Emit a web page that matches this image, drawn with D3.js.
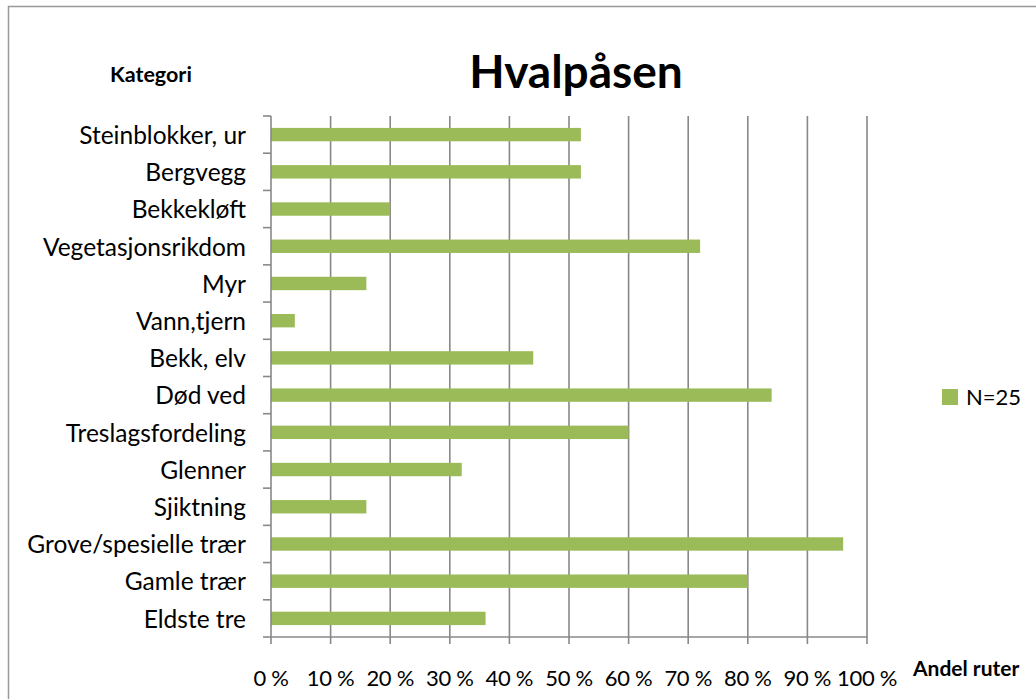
<!DOCTYPE html>
<html>
<head>
<meta charset="utf-8">
<script src="https://cdn.jsdelivr.net/npm/d3@7"></script>
<style>
  body { margin: 0; background: #fff; }
  text { font-family: Lato, "Open Sans", sans-serif; fill: #000; }
</style>
</head>
<body>
<div class="chart"></div>
<script>
var svgWidth = 1036;
var svgHeight = 699;

// categories from top to bottom, values in percent
var categories = ["Steinblokker, ur", "Bergvegg", "Bekkekløft", "Vegetasjonsrikdom", "Myr",
  "Vann,tjern", "Bekk, elv", "Død ved", "Treslagsfordeling", "Glenner", "Sjiktning",
  "Grove/spesielle trær", "Gamle trær", "Eldste tre"];
var values = [52, 52, 20, 72, 16, 4, 44, 84, 60, 32, 16, 96, 80, 36];
var xTicks = [0, 10, 20, 30, 40, 50, 60, 70, 80, 90, 100];
var seriesName = "N=25";

var margin = { top: 116, right: 169, bottom: 62, left: 271 };
var width = svgWidth - margin.left - margin.right;
var height = svgHeight - margin.top - margin.bottom;

var svg = d3.select(".chart")
  .append("svg")
  .attr("width", svgWidth)
  .attr("height", svgHeight);

// outer chart frame
svg.append("rect")
  .attr("x", 8.5)
  .attr("y", 6.5)
  .attr("width", svgWidth + 10)
  .attr("height", svgHeight + 10)
  .attr("fill", "none")
  .attr("stroke", "#999")
  .attr("stroke-width", 1.5);

var chartGroup = svg.append("g")
  .attr("transform", `translate(${margin.left}, ${margin.top})`);

var x = d3.scaleLinear().domain([0, 100]).range([0, width]);
var y = d3.scaleBand().domain(categories).range([0, height]).paddingInner(0.64).paddingOuter(0.32);

// gridlines
chartGroup.selectAll(".grid")
  .data(xTicks.slice(1))
  .enter()
  .append("line")
  .attr("x1", d => x(d))
  .attr("x2", d => x(d))
  .attr("y1", 0)
  .attr("y2", height)
  .attr("stroke", "#888")
  .attr("stroke-width", 1.6);

// bars
chartGroup.selectAll(".bar")
  .data(values)
  .enter()
  .append("rect")
  .attr("x", x(0))
  .attr("y", (d, i) => y(categories[i]))
  .attr("width", d => x(d) - x(0))
  .attr("height", y.bandwidth())
  .attr("fill", "#9bbb59");

// y axis line and ticks at band boundaries
var step = height / categories.length;
chartGroup.append("line")
  .attr("x1", 0).attr("x2", 0)
  .attr("y1", 0).attr("y2", height)
  .attr("stroke", "#888").attr("stroke-width", 1.6);
chartGroup.selectAll(".ytick")
  .data(d3.range(categories.length + 1))
  .enter()
  .append("line")
  .attr("x1", -8).attr("x2", 0)
  .attr("y1", d => d * step).attr("y2", d => d * step)
  .attr("stroke", "#888").attr("stroke-width", 1.6);

// category labels
chartGroup.selectAll(".ylabel")
  .data(categories)
  .enter()
  .append("text")
  .attr("x", -25)
  .attr("y", d => y(d) + y.bandwidth() / 2)
  .attr("dy", "0.38em")
  .attr("text-anchor", "end")
  .attr("font-size", "24.5px")
  .text(d => d);

// x axis line and ticks
chartGroup.append("line")
  .attr("x1", 0).attr("x2", width)
  .attr("y1", height).attr("y2", height)
  .attr("stroke", "#888").attr("stroke-width", 1.6);
chartGroup.selectAll(".xtick")
  .data(xTicks)
  .enter()
  .append("line")
  .attr("x1", d => x(d)).attr("x2", d => x(d))
  .attr("y1", height).attr("y2", height + 7)
  .attr("stroke", "#888").attr("stroke-width", 1.6);
chartGroup.selectAll(".xlabel")
  .data(xTicks)
  .enter()
  .append("text")
  .attr("x", d => x(d))
  .attr("y", height + 49)
  .attr("text-anchor", "middle")
  .attr("font-size", "22px")
  .attr("letter-spacing", "-0.3px")
  .text(d => d + " %");

// title and axis titles
svg.append("text")
  .attr("x", 576)
  .attr("y", 88)
  .attr("text-anchor", "middle")
  .attr("font-size", "46px")
  .attr("font-weight", "bold")
  .text("Hvalpåsen");

svg.append("text")
  .attr("x", 110)
  .attr("y", 82)
  .attr("font-size", "21.5px")
  .attr("font-weight", "bold")
  .text("Kategori");

svg.append("text")
  .attr("x", 913)
  .attr("y", 676)
  .attr("font-size", "21px")
  .attr("font-weight", "bold")
  .text("Andel ruter");

// legend
var legend = svg.append("g").attr("transform", "translate(942, 389)");
legend.append("rect")
  .attr("width", 16).attr("height", 16)
  .attr("fill", "#9bbb59");
legend.append("text")
  .attr("x", 24)
  .attr("y", 8)
  .attr("dy", "0.36em")
  .attr("font-size", "22px")
  .text(seriesName);
</script>
</body>
</html>
